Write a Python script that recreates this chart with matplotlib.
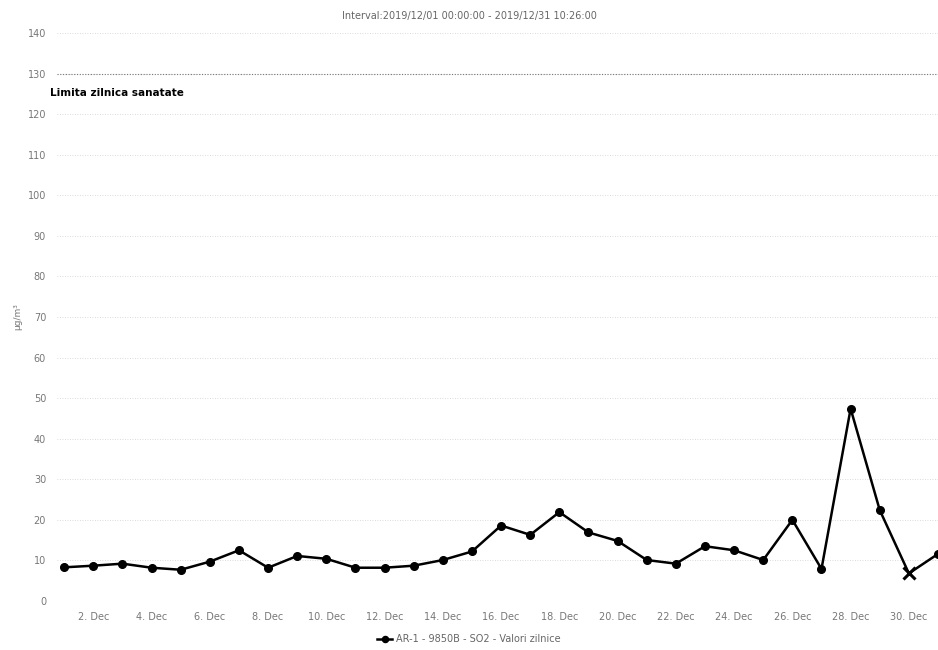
import matplotlib.pyplot as plt

# daily SO2 values, December 2019
days = list(range(1, 32))
values = [8.3, 8.7, 9.2, 8.2, 7.7, 9.7, 12.5, 8.2, 11.1, 10.4,
          8.2, 8.2, 8.7, 10.1, 12.2, 18.6, 16.3, 21.9, 16.9, 14.8,
          10.1, 9.2, 13.5, 12.5, 10.1, 20.0, 7.9, 47.4, 22.4, 6.8, 11.6]
x_marked = [30]  # point drawn with an x marker
tick_days = list(range(2, 31, 2))
tick_labels = [f"{d}. Dec" for d in tick_days]
y_ticks = list(range(0, 141, 10))
limit = 130

fig = plt.figure(figsize=(9.38, 6.5), dpi=100)
ax = fig.add_axes([0.061, 0.0754, 0.939, 0.8738])

for y in y_ticks:
    ax.axhline(y, color="#cfcfcf", lw=0.6, ls=(0, (1, 2)), zorder=0)
ax.axhline(limit, color="#777777", lw=0.8, ls=(0, (1, 1.5)), zorder=1)
fig.text(0.053, 0.857, "Limita zilnica sanatate", va="center",
         fontsize=7.5, color="black", fontweight="bold")

ax.plot(days, values, color="black", lw=1.8, zorder=3,
        label="AR-1 - 9850B - SO2 - Valori zilnice",
        marker="o", ms=5.5, markevery=[d - 1 for d in days if d not in x_marked])
ax.plot([d for d in x_marked], [values[d - 1] for d in x_marked], "x",
        color="black", ms=8, mew=2.2, zorder=4)

ax.set_xlim(0.76, 31)
ax.set_ylim(0, 140)
ax.set_xticks(tick_days)
ax.set_xticklabels(tick_labels)
ax.set_yticks(y_ticks)
ax.tick_params(length=0, labelsize=7, labelcolor="#777777", pad=8)
for s in ax.spines.values():
    s.set_visible(False)

ax.set_ylabel("µg/m³", fontsize=6.5, color="#777777", labelpad=4)
fig.text(0.5, 0.97, "Interval:2019/12/01 00:00:00 - 2019/12/31 10:26:00",
         ha="center", fontsize=7, color="#666666")
fig.legend(loc="lower center", bbox_to_anchor=(0.5, -0.005), frameon=False,
           fontsize=7, labelcolor="#666666", handlelength=1.5,
           handletextpad=0.4, markerscale=0.8)

fig.savefig("out.png", dpi=100)
